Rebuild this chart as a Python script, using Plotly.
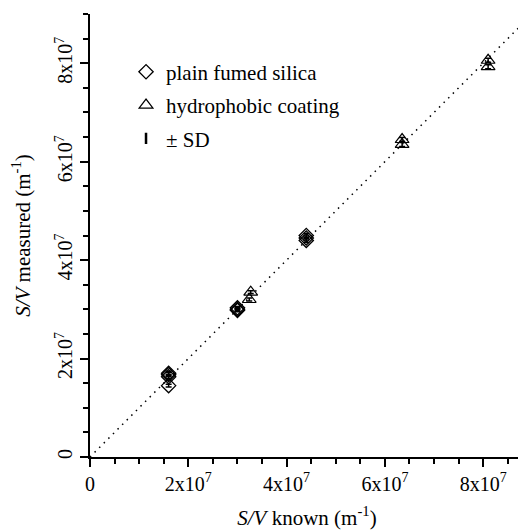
import plotly.graph_objects as go

# plain fumed silica
plain_x = [1.6e7, 1.6e7, 1.6e7, 1.6e7, 3.0e7, 3.0e7, 3.0e7, 4.4e7, 4.4e7, 4.4e7]
plain_y = [1.45e7, 1.63e7, 1.67e7, 1.70e7, 2.98e7, 3.0e7, 3.03e7, 4.40e7, 4.45e7, 4.50e7]
plain_sd = [0.03e7, 0.04e7, 0.04e7, 0.04e7, 0.03e7, 0.03e7, 0.03e7, 0.04e7, 0.04e7, 0.04e7]

# hydrophobic coating
hyd_x = [3.27e7, 3.24e7, 6.35e7, 6.35e7, 8.1e7, 8.1e7]
hyd_y = [3.35e7, 3.2e7, 6.45e7, 6.35e7, 8.06e7, 7.93e7]
hyd_sd = [0.03e7, 0.03e7, 0.04e7, 0.04e7, 0.04e7, 0.04e7]

line_xy = [0, 8.85e7]

tick_vals = [0, 2e7, 4e7, 6e7, 8e7]
tick_text = ["0", "2x10<sup>7</sup>", "4x10<sup>7</sup>", "6x10<sup>7</sup>", "8x10<sup>7</sup>"]

FONT = "Liberation Serif, Times New Roman, Times, serif"

fig = go.Figure()
fig.add_trace(go.Scatter(
    x=line_xy, y=line_xy, mode="lines", showlegend=False,
    line=dict(color="black", width=1.5, dash="1.5px,5px"), hoverinfo="skip"))
fig.add_trace(go.Scatter(
    x=plain_x, y=plain_y, mode="markers", name="plain fumed silica",
    marker=dict(symbol="diamond-open", size=11, color="black", line=dict(width=1.3, color="black")),
    error_y=dict(type="data", array=plain_sd, color="black", thickness=1.5, width=3),
    legendgroup="a"))
fig.add_trace(go.Scatter(
    x=hyd_x, y=hyd_y, mode="markers", name="hydrophobic coating",
    marker=dict(symbol="triangle-up-open", size=12, color="black", line=dict(width=1.2, color="black")),
    error_y=dict(type="data", array=hyd_sd, color="black", thickness=1.5, width=3),
    legendgroup="b"))
fig.add_trace(go.Scatter(
    x=[None], y=[None], mode="markers", name="± SD",
    marker=dict(symbol="line-ns", size=8, color="black", line=dict(width=2.5, color="black")),
    legendgroup="c"))

axis_common = dict(
    showline=True, linecolor="black", linewidth=1.5, mirror=False,
    ticks="outside", ticklen=8, tickwidth=1.5, tickcolor="black",
    showgrid=False, zeroline=False, automargin=False,
    tickvals=tick_vals, ticktext=tick_text,
    tickfont=dict(family=FONT, size=20, color="black"),
    minor=dict(dtick=5e6, tick0=0, ticks="outside", ticklen=5, tickwidth=1.5, tickcolor="black", showgrid=False),
)

# the page body adds an 8 px offset; margins compensate for it
fig.update_layout(
    width=518, height=522,
    margin=dict(l=82, r=2, t=6, b=73),
    paper_bgcolor="white", plot_bgcolor="white",
    font=dict(family=FONT, size=20, color="black"),
    xaxis=dict(range=[0, 8.83e7],
               title=dict(text="<i>S/V</i> known (m<sup>-1</sup>)", font=dict(family=FONT, size=21), standoff=17),
               **axis_common),
    yaxis=dict(range=[0, 9.0e7], tickangle=-90,
               title=dict(text="<i>S/V</i> measured (m<sup>-1</sup>)", font=dict(family=FONT, size=21), standoff=16),
               **axis_common),
    legend=dict(x=0.083, y=0.915, xanchor="left", yanchor="top",
                bgcolor="rgba(0,0,0,0)", font=dict(family=FONT, size=21, color="black"),
                itemwidth=30, tracegroupgap=3),
    showlegend=True,
)

fig.write_html("out.html")
